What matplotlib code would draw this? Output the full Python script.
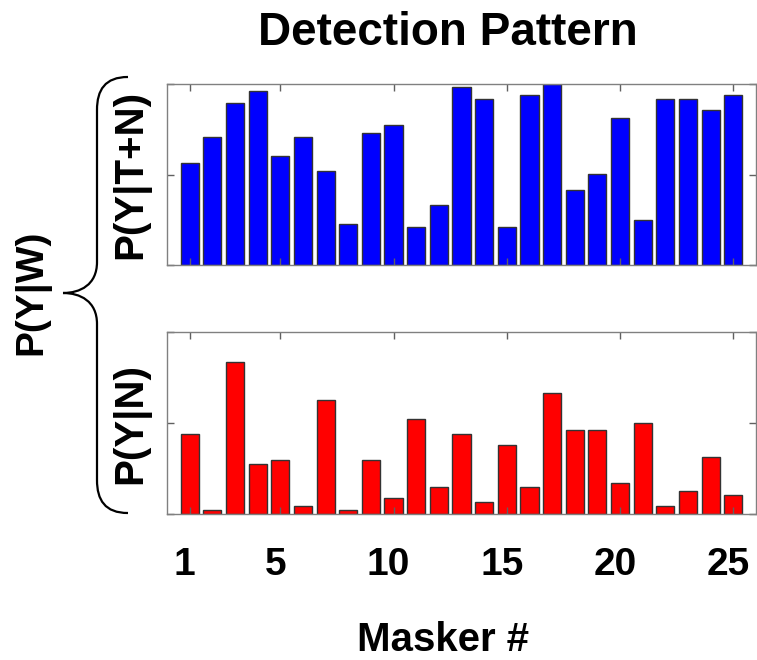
import matplotlib
matplotlib.use("Agg")
import matplotlib.pyplot as plt
import matplotlib.transforms as mtransforms
from matplotlib.path import Path
from matplotlib.patches import PathPatch

plt.rcParams['font.family'] = ['Liberation Sans', 'DejaVu Sans']
plt.rcParams['font.weight'] = 'bold'

# Data
maskers = list(range(1, 26))
p_yes_tn = [0.564, 0.709, 0.897, 0.961, 0.604, 0.709, 0.521, 0.228, 0.729, 0.772,
            0.208, 0.333, 0.982, 0.919, 0.208, 0.939, 1.000, 0.416, 0.501, 0.814,
            0.250, 0.919, 0.919, 0.856, 0.939]
p_yes_n = [0.440, 0.022, 0.833, 0.272, 0.294, 0.044, 0.626, 0.022, 0.294, 0.086,
           0.521, 0.149, 0.440, 0.064, 0.378, 0.149, 0.666, 0.459, 0.459, 0.169,
           0.499, 0.044, 0.127, 0.314, 0.106]
xtick_vals = [1, 5, 10, 15, 20, 25]

W, H = 757, 660
fig = plt.figure(figsize=(W / 100, H / 100), dpi=100)

def px_axes(left, top, right, bottom):
    return [left / W, 1 - bottom / H, (right - left) / W, (bottom - top) / H]

ax_top = fig.add_axes(px_axes(167, 84, 756, 265))
ax_bot = fig.add_axes(px_axes(167, 332, 756, 514))

panels = [
    (ax_top, p_yes_tn, '#0000FF', 'P(Y|T+N)'),
    (ax_bot, p_yes_n, '#FF0000', 'P(Y|N)'),
]

for ax, vals, col, lab in panels:
    ax.bar(maskers, vals, width=0.8, color=col, edgecolor='#333333', linewidth=1.0)
    ax.set_xlim(0, 26)
    ax.set_ylim(0, 1)
    ax.set_yticks([0, 0.5, 1])
    ax.set_yticklabels([])
    ax.set_xticks(xtick_vals)
    for sp in ax.spines.values():
        sp.set_color('#808080')
        sp.set_linewidth(1.0)
    ax.tick_params(direction='in', top=True, right=True, length=5,
                   color='#606060', width=1.0)
    ax.set_ylabel(lab, fontsize=29, fontweight='bold')
    ax.yaxis.set_label_coords(-0.028, 0.5)

ax_top.set_xticklabels([])
ax_bot.set_xticklabels([str(v) for v in xtick_vals], fontsize=28, fontweight='bold')
ax_bot.tick_params(axis='x', pad=24)
# labels in the reference sit a little left of their ticks
shift = mtransforms.ScaledTranslation(-5 / 100, 0, fig.dpi_scale_trans)
for t in ax_bot.get_xticklabels():
    t.set_transform(t.get_transform() + shift)

fig.text(448 / W, 1 - 33 / H, 'Detection Pattern', fontsize=33, fontweight='bold',
         ha='center', va='center')
fig.text(443 / W, 1 - 640 / H, 'Masker #', fontsize=29, fontweight='bold',
         ha='center', va='center')
fig.text(32 / W, 1 - 292 / H, 'P(Y|W)', fontsize=28, fontweight='bold',
         ha='center', va='center', rotation=90)

# curly brace joining the two panels
pts = [(128, 77), (105, 77), (97, 90), (97, 110),
       (97, 262),
       (97, 285), (80, 293), (63, 293),
       (80, 293), (97, 301), (97, 324),
       (97, 480),
       (97, 500), (105, 513), (128, 513)]
codes = [Path.MOVETO, Path.CURVE4, Path.CURVE4, Path.CURVE4,
         Path.LINETO,
         Path.CURVE4, Path.CURVE4, Path.CURVE4,
         Path.CURVE4, Path.CURVE4, Path.CURVE4,
         Path.LINETO,
         Path.CURVE4, Path.CURVE4, Path.CURVE4]
brace = Path([(x / W, 1 - y / H) for x, y in pts], codes)
fig.patches.append(PathPatch(brace, transform=fig.transFigure, fill=False,
                             edgecolor='black', linewidth=1.6))

fig.savefig('out.png', dpi=100)
